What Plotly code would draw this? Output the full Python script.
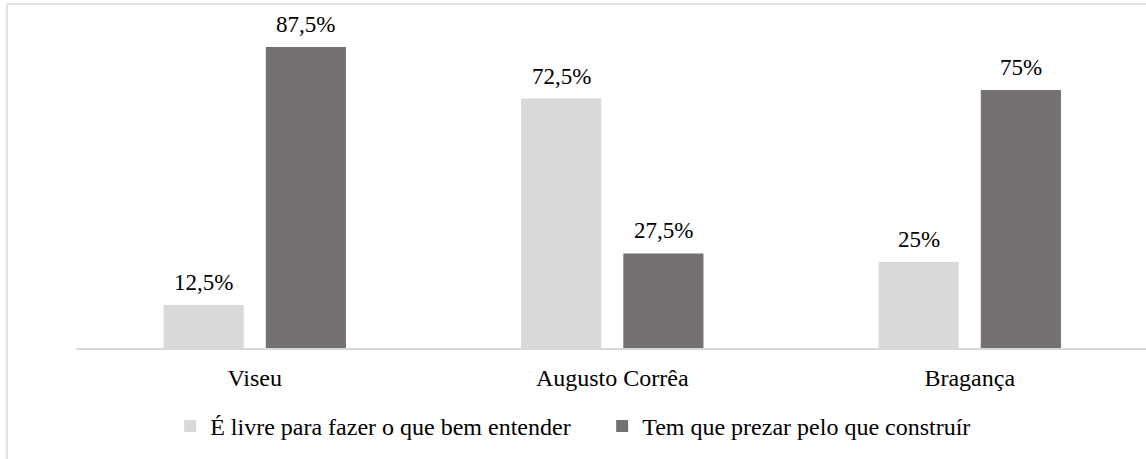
import plotly.graph_objects as go

categories = ["Viseu", "Augusto Corrêa", "Bragança"]
series_names = ["É livre para fazer o que bem entender", "Tem que prezar pelo que construír"]
livre_values = [12.5, 72.5, 25]
prezar_values = [87.5, 27.5, 75]
colors = ["#d9d9d9", "#767171"]

FONT = "Liberation Serif"
BAR_SHIFT = [-51, 51]  # pixel offset of each series within its group


def fmt(v):
    return f"{v:g}".replace(".", ",") + "%"


fig = go.Figure()
annotations = []
for i, (name, vals, col) in enumerate(zip(series_names, [livre_values, prezar_values], colors)):
    fig.add_trace(go.Bar(
        x=categories, y=vals, name=name,
        marker=dict(color=col, line=dict(width=0)),
    ))
    for c, v in zip(categories, vals):
        annotations.append(dict(
            x=c, y=v, xref="x", yref="y", text=fmt(v), showarrow=False,
            xanchor="center", yanchor="bottom", xshift=BAR_SHIFT[i], yshift=8,
            font=dict(family=FONT, size=23, color="#000000"),
        ))

fig.update_layout(
    width=1146, height=459,
    margin=dict(l=76, r=0, t=4, b=111),
    paper_bgcolor="white", plot_bgcolor="white",
    barmode="group", bargap=0.428, bargroupgap=0.216,
    font=dict(family=FONT, size=24, color="#000000"),
    showlegend=True,
    legend=dict(
        orientation="h", x=0.088, xanchor="left", y=-0.1625, yanchor="top",
        font=dict(family=FONT, size=24, color="#000000"),
        entrywidth=387, entrywidthmode="pixels",
        bgcolor="rgba(0,0,0,0)",
    ),
    xaxis=dict(
        range=[-0.5, 2.493], showgrid=False, showline=True, linecolor="#d9d9d9",
        linewidth=1.5, ticks="", ticklabelstandoff=7,
        tickfont=dict(family=FONT, size=24, color="#000000"),
    ),
    yaxis=dict(range=[0, 100], visible=False, showgrid=False, zeroline=False),
    annotations=annotations,
    shapes=[
        dict(type="line", xref="paper", yref="paper", x0=-0.0645, x1=1.01, y0=1.0, y1=1.0,
             line=dict(color="#d9d9d9", width=1.5)),
        dict(type="line", xref="paper", yref="paper", x0=-0.0645, x1=-0.0645, y0=1.0, y1=-0.35,
             line=dict(color="#d9d9d9", width=1.5)),
    ],
)

fig.write_html("out.html", config={"displayModeBar": False},
               post_script="document.body.style.margin='0';")
